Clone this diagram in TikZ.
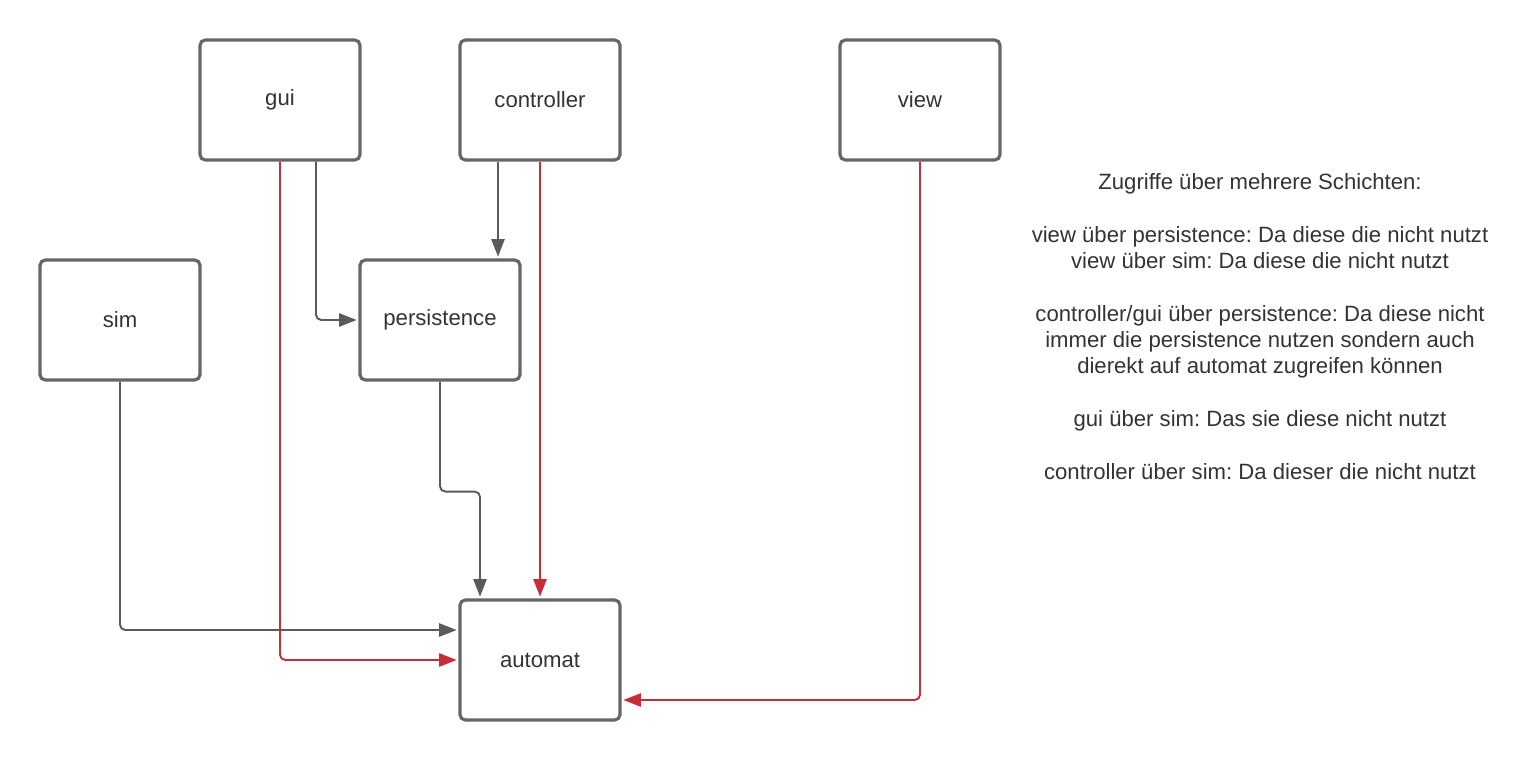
\documentclass[tikz,border=0pt]{standalone}
\usepackage{fontspec}
\setmainfont{Liberation Sans}
\frenchspacing
\usepackage{tikz}
\usetikzlibrary{arrows.meta,calc}

\definecolor{boxgray}{HTML}{666666}
\definecolor{linegray}{HTML}{5A5A5A}
\definecolor{lucidred}{HTML}{C92D39}
\definecolor{textgray}{HTML}{333333}

\begin{document}
\begin{tikzpicture}[x=0.02cm,y=-0.02cm,>={Triangle[length=10pt,width=7.5pt]},shorten >=1pt,
  every node/.style={text=textgray,font=\fontsize{12.6}{15}\selectfont},
  layer/.style={draw=boxgray,line width=1.8pt,rounded corners=3pt,fill=white,minimum width=3.2cm,minimum height=2.4cm},
  access/.style={->,draw=linegray,line width=1.1pt,rounded corners=3pt},
  bypass/.style={->,draw=lucidred,line width=1.1pt,rounded corners=3pt}]
  \useasboundingbox (0,0) rectangle (1540,760);
  \node[layer]  (gui)         at (280,100)  {gui};
  \node[layer]  (controller)  at (540,100)  {controller};
  \node[layer]  (view)        at (920,100)  {view};
  \node[layer]  (sim)         at (120,320)  {sim};
  \node[layer]  (persistence) at (440,320)  {persistence};
  \node[layer]  (automat)     at (540,660)  {automat};
  \node[align=center,inner sep=0pt,anchor=north] (notes) at (1260,173)
    {Zugriffe über mehrere Schichten:\\[15pt]
     view über persistence: Da diese die nicht nutzt\\
     view über sim: Da diese die nicht nutzt\\[15pt]
     controller/gui über persistence: Da diese nicht\\
     immer die persistence nutzen sondern auch\\
     dierekt auf automat zugreifen können\\[15pt]
     gui über sim: Das sie diese nicht nutzt\\[15pt]
     controller über sim: Da dieser die nicht nutzt};
  % allowed accesses
  \path[access] ($(gui.south)+(36,0)$) |- (persistence.west);
  \path[access] ($(controller.south)+(-42,0)$) -- ($(persistence.north)+(58,0)$);
  \path[access] (persistence.south) -- ++(0,110) -| ($(automat.north)+(-60,0)$);
  \path[access] (sim.south) |- ($(automat.west)+(0,-30)$);
  % accesses over several layers
  \path[bypass] (gui.south) |- (automat.west);
  \path[bypass] (controller.south) -- (automat.north);
  \path[bypass] (view.south) |- ($(automat.east)+(0,40)$);
\end{tikzpicture}
\end{document}
